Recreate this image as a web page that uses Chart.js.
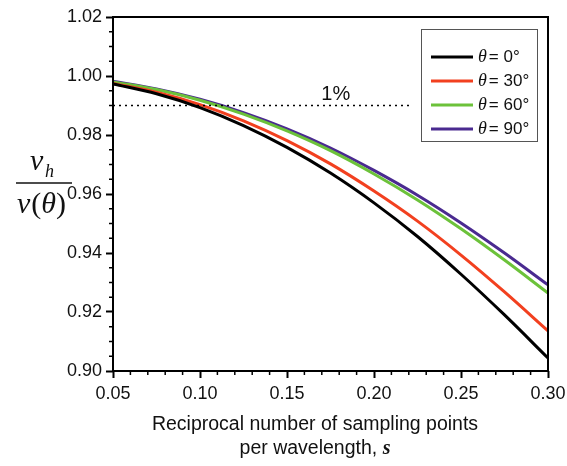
<!DOCTYPE html>
<html>
<head>
<meta charset="utf-8">
<script src="https://cdn.jsdelivr.net/npm/chart.js@4"></script>
<style>
  body { margin: 0; background: #fff; }
  #wrap { width: 567px; height: 466px; }
</style>
</head>
<body>
<div id="wrap"><canvas id="dispersionCanvas"></canvas></div>
<script>
// Reciprocal number of sampling points per wavelength
const sValues = [0.05, 0.075, 0.10, 0.125, 0.15, 0.175, 0.20, 0.225, 0.25, 0.275, 0.30];

// Normalised phase velocity for each propagation angle
const theta0  = [0.9973, 0.9940, 0.9893, 0.9832, 0.9758, 0.9671, 0.9570, 0.9456, 0.9328, 0.9190, 0.9044];
const theta30 = [0.9975, 0.9945, 0.9903, 0.9848, 0.9781, 0.9702, 0.9610, 0.9508, 0.9393, 0.9268, 0.9136];
const theta60 = [0.9980, 0.9954, 0.9918, 0.9871, 0.9814, 0.9747, 0.9668, 0.9580, 0.9482, 0.9376, 0.9264];
const theta90 = [0.9982, 0.9956, 0.9921, 0.9876, 0.9821, 0.9756, 0.9680, 0.9596, 0.9502, 0.9400, 0.9292];

const seriesAngles = ['0', '30', '60', '90'];
const seriesColors = ['#000000', '#f2401f', '#6cc23a', '#4a2a90'];

// 1% error reference line
const onePercentLevel = 0.99;
const onePercentEnd = 0.2207;

const xTicks = [0.05, 0.10, 0.15, 0.20, 0.25, 0.30];
const yTicks = [0.90, 0.92, 0.94, 0.96, 0.98, 1.00, 1.02];

const FONT = '"Liberation Sans", Arial, sans-serif';
const SERIF = '"Liberation Serif", "Times New Roman", serif';

function toPoints(ys) {
    return sValues.map((s, i) => ({ x: s, y: ys[i] }));
}

const curveSets = [theta0, theta30, theta60, theta90].map((ys, i) => ({
    label: 'θ = ' + seriesAngles[i] + '°',
    data: toPoints(ys),
    borderColor: seriesColors[i],
    borderWidth: 3,
    pointRadius: 0,
    cubicInterpolationMode: 'monotone',
    fill: false
}));

const referenceSet = {
    label: '1%',
    isReference: true,
    data: [{ x: sValues[0], y: onePercentLevel }, { x: onePercentEnd, y: onePercentLevel }],
    borderColor: '#000000',
    borderWidth: 1.5,
    borderDash: [2, 4],
    pointRadius: 0
};

// Draws frame, minor ticks, legend and the axis titles
const decorations = {
    id: 'decorations',
    afterDraw(chart) {
        const ctx = chart.ctx;
        const area = chart.chartArea;
        const xs = chart.scales.x;
        const ys = chart.scales.y;
        ctx.save();

        // frame
        ctx.strokeStyle = '#000';
        ctx.lineWidth = 2;
        ctx.strokeRect(area.left, area.top, area.right - area.left, area.bottom - area.top);

        // minor ticks
        ctx.lineWidth = 1.5;
        ctx.beginPath();
        for (let k = 0; k <= 25; k++) {
            if (k % 5 === 0) continue;
            const px = xs.getPixelForValue(0.05 + k * 0.01);
            ctx.moveTo(px, area.bottom);
            ctx.lineTo(px, area.bottom + 4);
        }
        for (let k = 0; k <= 24; k++) {
            if (k % 4 === 0) continue;
            const py = ys.getPixelForValue(0.90 + k * 0.005);
            ctx.moveTo(area.left, py);
            ctx.lineTo(area.left - 4, py);
        }
        ctx.stroke();

        // 1% label
        ctx.fillStyle = '#111';
        ctx.font = '20px ' + FONT;
        ctx.textAlign = 'center';
        ctx.textBaseline = 'alphabetic';
        ctx.fillText('1%', xs.getPixelForValue(0.178), ys.getPixelForValue(onePercentLevel) - 6);

        // legend
        ctx.fillStyle = '#fff';
        ctx.fillRect(421, 29, 116, 112);
        ctx.strokeStyle = '#555';
        ctx.lineWidth = 1;
        ctx.strokeRect(421.5, 29.5, 116, 112);
        chart.data.datasets.filter(d => !d.isReference).forEach((d, i) => {
            const y = 57 + i * 24;
            ctx.strokeStyle = d.borderColor;
            ctx.lineWidth = 3;
            ctx.beginPath();
            ctx.moveTo(431, y);
            ctx.lineTo(473, y);
            ctx.stroke();
            ctx.fillStyle = '#111';
            ctx.textAlign = 'left';
            ctx.textBaseline = 'middle';
            ctx.font = 'italic 18px ' + SERIF;
            ctx.fillText('θ', 478, y);
            const w = ctx.measureText('θ').width;
            ctx.font = '17px ' + FONT;
            ctx.fillText('= ' + seriesAngles[i] + '°', 478 + w + 2, y);
        });

        // y-axis title: v_h / v(θ)
        ctx.fillStyle = '#111';
        ctx.textBaseline = 'alphabetic';
        ctx.textAlign = 'left';
        ctx.font = 'italic 30px ' + SERIF;
        ctx.fillText('v', 30, 170);
        ctx.font = 'italic 18px ' + SERIF;
        ctx.fillText('h', 45, 177);
        ctx.lineWidth = 1.5;
        ctx.strokeStyle = '#111';
        ctx.beginPath();
        ctx.moveTo(16, 183);
        ctx.lineTo(72, 183);
        ctx.stroke();
        let cx = 17;
        ctx.font = 'italic 30px ' + SERIF;
        ctx.fillText('v', cx, 213);
        cx += ctx.measureText('v').width + 1;
        ctx.font = '30px ' + SERIF;
        ctx.fillText('(', cx, 213);
        cx += ctx.measureText('(').width;
        ctx.font = 'italic 30px ' + SERIF;
        ctx.fillText('θ', cx, 213);
        cx += ctx.measureText('θ').width;
        ctx.font = '30px ' + SERIF;
        ctx.fillText(')', cx, 213);

        // x-axis title
        const midX = 315;
        ctx.font = '19.5px ' + FONT;
        ctx.textAlign = 'center';
        ctx.fillText('Reciprocal number of sampling points', midX, 430);
        const part = 'per wavelength, ';
        const pw = ctx.measureText(part).width;
        ctx.font = 'italic bold 20px ' + SERIF;
        const sw = ctx.measureText('s').width;
        const startX = midX - (pw + sw) / 2;
        ctx.textAlign = 'left';
        ctx.font = '19.5px ' + FONT;
        ctx.fillText(part, startX, 454);
        ctx.font = 'italic bold 20px ' + SERIF;
        ctx.fillText('s', startX + pw, 454);

        ctx.restore();
    }
};

const ctx = document.getElementById('dispersionCanvas').getContext('2d');
new Chart(ctx, {
    type: 'line',
    data: { datasets: [referenceSet, ...curveSets] },
    options: {
        responsive: true,
        maintainAspectRatio: false,
        animation: false,
        layout: { padding: { top: 17, right: 19, left: 0, bottom: 0 } },
        plugins: {
            legend: { display: false },
            tooltip: { enabled: false }
        },
        scales: {
            x: {
                type: 'linear',
                min: 0.05,
                max: 0.30,
                afterFit: scale => {
                    scale.height = 95;
                    scale.paddingLeft = 0;
                    scale.paddingRight = 0;
                },
                afterBuildTicks: scale => { scale.ticks = xTicks.map(v => ({ value: v })); },
                ticks: {
                    callback: v => v.toFixed(2),
                    color: '#111',
                    font: { family: FONT, size: 18 },
                    padding: 5,
                    maxRotation: 0
                },
                grid: {
                    drawOnChartArea: false,
                    tickLength: 7,
                    tickWidth: 2,
                    tickColor: '#000'
                },
                border: { display: false }
            },
            y: {
                min: 0.90,
                max: 1.02,
                afterFit: scale => {
                    scale.width = 113;
                    scale.paddingTop = 0;
                    scale.paddingBottom = 0;
                },
                afterBuildTicks: scale => { scale.ticks = yTicks.map(v => ({ value: v })); },
                ticks: {
                    callback: v => v.toFixed(2),
                    color: '#111',
                    font: { family: FONT, size: 18 },
                    padding: 4
                },
                grid: {
                    drawOnChartArea: false,
                    tickLength: 7,
                    tickWidth: 2,
                    tickColor: '#000'
                },
                border: { display: false }
            }
        }
    },
    plugins: [decorations]
});
</script>
</body>
</html>
